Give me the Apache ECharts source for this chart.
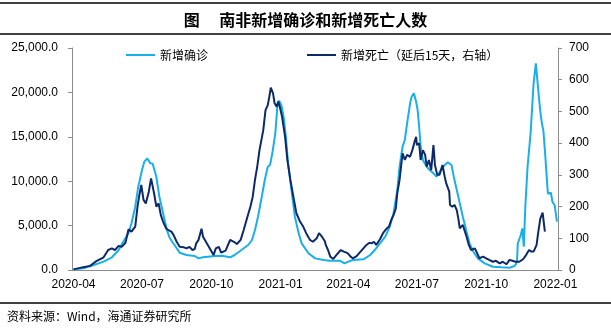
<!DOCTYPE html>
<html><head><meta charset="utf-8">
<script src="https://cdn.jsdelivr.net/npm/echarts@6/dist/echarts.min.js"></script>
<style>html,body{margin:0;padding:0;background:#fff}#c{width:611px;height:330px}</style>
</head><body><div id="c"></div>
<script>
const caseDates = ['2020-04-01','2020-04-14','2020-04-28','2020-05-11','2020-05-22','2020-05-31','2020-06-06','2020-06-13','2020-06-17','2020-06-22','2020-06-26','2020-07-01','2020-07-04','2020-07-08','2020-07-12','2020-07-15','2020-07-20','2020-07-24','2020-07-29','2020-08-03','2020-08-07','2020-08-14','2020-08-20','2020-08-29','2020-09-09','2020-09-14','2020-09-20','2020-10-06','2020-10-15','2020-10-26','2020-11-01','2020-11-10','2020-11-19','2020-11-24','2020-11-28','2020-12-02','2020-12-07','2020-12-11','2020-12-15','2020-12-18','2020-12-21','2020-12-25','2020-12-28','2020-12-30','2021-01-02','2021-01-05','2021-01-08','2021-01-11','2021-01-16','2021-01-20','2021-01-25','2021-01-29','2021-02-07','2021-02-16','2021-02-27','2021-03-08','2021-03-21','2021-03-27','2021-04-01','2021-04-07','2021-04-21','2021-04-30','2021-05-06','2021-05-13','2021-05-20','2021-05-26','2021-05-31','2021-06-05','2021-06-08','2021-06-12','2021-06-15','2021-06-18','2021-06-22','2021-06-24','2021-06-27','2021-06-30','2021-07-02','2021-07-04','2021-07-06','2021-07-09','2021-07-14','2021-07-18','2021-07-23','2021-07-27','2021-07-31','2021-08-07','2021-08-11','2021-08-16','2021-08-19','2021-08-23','2021-08-27','2021-08-31','2021-09-05','2021-09-09','2021-09-14','2021-09-20','2021-09-29','2021-10-10','2021-10-21','2021-11-01','2021-11-08','2021-11-11','2021-11-12','2021-11-16','2021-11-18','2021-11-20','2021-11-22','2021-11-25','2021-11-29','2021-12-01','2021-12-03','2021-12-06','2021-12-08','2021-12-10','2021-12-12','2021-12-14','2021-12-16','2021-12-18','2021-12-20','2021-12-22','2021-12-24','2021-12-26','2021-12-28','2021-12-31','2022-01-03'];
const caseValues = [80,190,560,940,1430,2250,3190,4130,5260,7130,9380,11260,12200,12550,12010,12000,10500,8250,6380,4500,3570,2700,1950,1690,1580,1310,1430,1580,1600,1430,1690,2250,2815,3380,4500,6000,8250,10130,11630,11820,13140,15390,18770,19060,18580,17260,15010,12010,8640,6000,4130,3000,1880,1310,1130,1050,1030,750,940,1130,1200,1690,2250,3000,3750,4880,6380,9010,11630,13880,14640,16520,18770,19510,19890,18950,18020,16130,13880,12390,11630,11260,10890,10510,11000,11820,12130,11820,10510,9010,7510,6000,4310,3000,2060,1310,750,370,300,260,450,900,3000,3940,4690,2620,7130,11630,15390,15580,21020,23270,23400,19510,17800,16520,15700,13500,11000,8600,8450,8700,7690,7300,5440];

const deathDates = ['2020-04-01','2020-04-14','2020-04-23','2020-05-02','2020-05-11','2020-05-17','2020-05-22','2020-05-26','2020-05-31','2020-06-04','2020-06-09','2020-06-13','2020-06-17','2020-06-22','2020-06-25','2020-06-27','2020-06-30','2020-07-03','2020-07-06','2020-07-10','2020-07-13','2020-07-14','2020-07-17','2020-07-20','2020-07-23','2020-07-26','2020-07-29','2020-08-02','2020-08-05','2020-08-09','2020-08-12','2020-08-16','2020-08-20','2020-08-25','2020-08-29','2020-09-02','2020-09-06','2020-09-09','2020-09-11','2020-09-14','2020-09-18','2020-09-20','2020-09-25','2020-09-29','2020-10-04','2020-10-07','2020-10-11','2020-10-14','2020-10-20','2020-10-26','2020-10-31','2020-11-04','2020-11-09','2020-11-13','2020-11-18','2020-11-22','2020-11-25','2020-11-28','2020-12-01','2020-12-04','2020-12-09','2020-12-12','2020-12-15','2020-12-17','2020-12-19','2020-12-22','2020-12-24','2020-12-27','2020-12-29','2020-12-31','2021-01-03','2021-01-07','2021-01-10','2021-01-14','2021-01-18','2021-01-22','2021-01-27','2021-01-31','2021-02-04','2021-02-09','2021-02-13','2021-02-18','2021-02-21','2021-02-25','2021-03-01','2021-03-02','2021-03-05','2021-03-08','2021-03-12','2021-03-16','2021-03-22','2021-03-26','2021-03-31','2021-04-04','2021-04-07','2021-04-12','2021-04-16','2021-04-21','2021-04-25','2021-04-29','2021-05-02','2021-05-05','2021-05-08','2021-05-13','2021-05-17','2021-05-22','2021-05-25','2021-05-28','2021-05-31','2021-06-03','2021-06-05','2021-06-08','2021-06-11','2021-06-12','2021-06-15','2021-06-18','2021-06-22','2021-06-25','2021-06-28','2021-06-30','2021-07-01','2021-07-04','2021-07-06','2021-07-09','2021-07-12','2021-07-14','2021-07-17','2021-07-20','2021-07-23','2021-07-25','2021-07-28','2021-07-31','2021-08-04','2021-08-07','2021-08-09','2021-08-13','2021-08-14','2021-08-17','2021-08-20','2021-08-23','2021-08-25','2021-08-27','2021-08-31','2021-09-02','2021-09-05','2021-09-08','2021-09-11','2021-09-16','2021-09-19','2021-09-22','2021-09-27','2021-10-01','2021-10-05','2021-10-10','2021-10-14','2021-10-19','2021-10-23','2021-10-28','2021-11-01','2021-11-05','2021-11-09','2021-11-14','2021-11-19','2021-11-23','2021-11-27','2021-11-30','2021-12-03','2021-12-07','2021-12-09','2021-12-12','2021-12-15','2021-12-17','2021-12-18'];
const deathValues = [2,9,13,29,40,63,68,63,76,73,86,128,121,137,200,230,268,221,210,247,289,294,242,200,210,173,152,131,126,121,110,89,73,72,68,73,63,66,84,95,130,105,84,68,47,68,73,55,61,95,89,82,95,126,168,200,231,284,326,378,441,504,520,546,575,557,526,515,531,515,483,420,347,284,231,179,152,137,116,95,89,100,116,105,90,79,63,42,35,47,63,58,53,42,37,44,55,68,79,86,84,89,79,97,116,131,137,158,173,194,242,284,347,368,347,363,357,378,405,420,394,400,347,378,363,326,347,315,394,331,300,300,331,294,273,247,205,200,205,189,163,131,142,142,105,79,63,68,53,37,42,37,32,26,29,21,26,18,32,29,26,26,34,47,63,58,58,79,116,163,181,178,121];

const xTickLabels = ['2020-04','2020-07','2020-10','2021-01','2021-04','2021-07','2021-10','2022-01'];
const seriesNames = ['新增确诊','新增死亡（延后15天，右轴）'];
const titleText = '图　 南非新增确诊和新增死亡人数';
const sourceText = '资料来源：Wind，海通证券研究所';

const toT = s => Date.UTC(+s.slice(0,4), +s.slice(5,7)-1, s.length>7 ? +s.slice(8,10) : 1);
const caseData = caseDates.map((d,i)=>[toT(d), caseValues[i]]);
const deathData = deathDates.map((d,i)=>[toT(d), deathValues[i]]);
const tickTimes = xTickLabels.map(toT);
const labelOf = {};
xTickLabels.forEach((s,i)=>{labelOf[tickTimes[i]] = s;});

const chart = echarts.init(document.getElementById('c'), null, {renderer:'canvas'});
const numFont = 'Liberation Sans, Arial, sans-serif';
const cjkFont = 'Noto Sans CJK SC, sans-serif';
chart.setOption({
  animation:false,
  backgroundColor:'#fff',
  title:{text:titleText,left:'center',top:7,textStyle:{fontFamily:cjkFont,fontSize:16,fontWeight:'bold',color:'#000'}},
  graphic:[
    {type:'line',shape:{x1:0,y1:3,x2:611,y2:3},style:{stroke:'#000',lineWidth:1.5}},
    {type:'line',shape:{x1:0,y1:34,x2:611,y2:34},style:{stroke:'#000',lineWidth:1.5}},
    {type:'line',shape:{x1:0,y1:303,x2:611,y2:303},style:{stroke:'#000',lineWidth:1.5}},
    {type:'text',left:7,top:310,style:{text:sourceText,font:'12px '+cjkFont,fill:'#000'}}
  ],
  legend:{left:121,top:44,itemWidth:29,itemHeight:2,itemGap:99,icon:'rect',
    textStyle:{fontFamily:cjkFont,fontSize:12,color:'#000'},data:seriesNames},
  grid:{left:72,right:53,top:48,bottom:60,containLabel:false},
  xAxis:{type:'value',min:toT('2020-03-30'),max:toT('2022-01-04')+10*3600000,
    axisLine:{lineStyle:{color:'#8c8c8c',width:1}},
    axisTick:{show:false},splitLine:{show:false},
    axisLabel:{customValues:tickTimes,margin:9,color:'#000',fontFamily:numFont,fontSize:12,
      formatter:function(v){return labelOf[v] || '';}}
  },
  yAxis:[
    {type:'value',min:0,max:25000,interval:5000,
      axisLine:{show:true,lineStyle:{color:'#8c8c8c'}},axisTick:{show:true,length:4,lineStyle:{color:'#8c8c8c'}},
      splitLine:{show:false},
      axisLabel:{margin:14,color:'#000',fontFamily:numFont,fontSize:12,
        formatter:v=>v.toLocaleString('en-US',{minimumFractionDigits:1,maximumFractionDigits:1})}},
    {type:'value',min:0,max:700,interval:100,position:'right',
      axisLine:{show:true,lineStyle:{color:'#8c8c8c'}},axisTick:{show:true,length:4,lineStyle:{color:'#8c8c8c'}},
      splitLine:{show:false},
      axisLabel:{margin:11,color:'#000',fontFamily:numFont,fontSize:12}}
  ],
  series:[
    {name:seriesNames[0],type:'line',yAxisIndex:0,data:caseData,symbol:'none',
      lineStyle:{color:'#1AAFE8',width:2},itemStyle:{color:'#1AAFE8'},z:2},
    {name:seriesNames[1],type:'line',yAxisIndex:1,data:deathData,symbol:'none',
      lineStyle:{color:'#0D2A68',width:2},itemStyle:{color:'#0D2A68'},z:3}
  ]
});
</script></body></html>
